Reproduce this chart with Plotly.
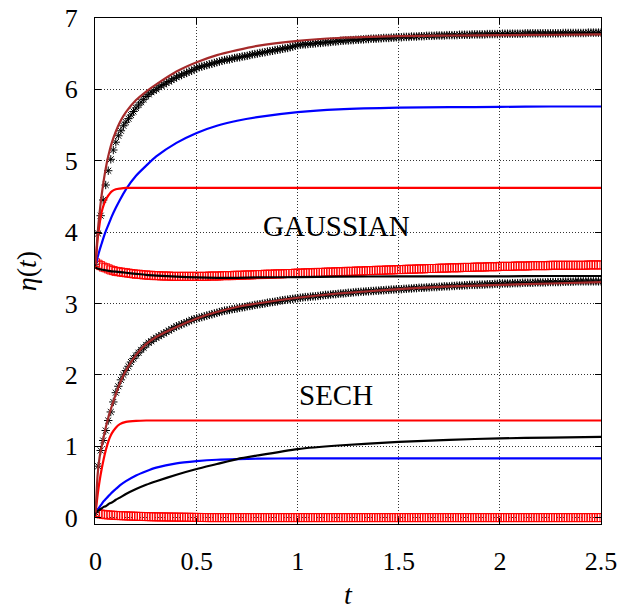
import plotly.graph_objects as go

# ---------------- data ----------------
# time grid for the continuous curves
t_line = [0, 0.01, 0.02, 0.03, 0.04, 0.05, 0.06, 0.07, 0.08, 0.1, 0.12, 0.15, 0.2, 0.25,
          0.3, 0.4, 0.5, 0.6, 0.7, 0.8, 1.0, 1.2, 1.5, 1.75, 2.0, 2.25, 2.5]

# GAUSSIAN group
gauss_brown = [3.55, 3.98, 4.28, 4.52, 4.72, 4.89, 5.03, 5.15, 5.25, 5.41, 5.54, 5.68, 5.85, 5.97,
               6.07, 6.25, 6.38, 6.48, 6.55, 6.61, 6.68, 6.72, 6.745, 6.755, 6.76, 6.765, 6.77]
gauss_red = [3.55, 3.90, 4.12, 4.28, 4.38, 4.45, 4.50, 4.54, 4.57, 4.60, 4.61, 4.62, 4.62, 4.62,
             4.62, 4.62, 4.62, 4.62, 4.62, 4.62, 4.62, 4.62, 4.62, 4.62, 4.62, 4.62, 4.62]
gauss_blue = [3.55, 3.65, 3.75, 3.84, 3.93, 4.01, 4.08, 4.15, 4.22, 4.34, 4.45, 4.60, 4.79, 4.93,
              5.06, 5.25, 5.39, 5.49, 5.56, 5.61, 5.68, 5.72, 5.745, 5.75, 5.755, 5.76, 5.76]
gauss_black = [3.50, 3.49, 3.48, 3.475, 3.47, 3.465, 3.46, 3.455, 3.45, 3.445, 3.44, 3.43, 3.415, 3.40,
               3.39, 3.375, 3.365, 3.36, 3.36, 3.365, 3.37, 3.375, 3.38, 3.38, 3.38, 3.385, 3.385]

# SECH group
sech_brown = [0.07, 0.60, 0.85, 1.00, 1.13, 1.26, 1.37, 1.47, 1.56, 1.73, 1.88, 2.06, 2.28, 2.43,
              2.53, 2.67, 2.79, 2.88, 2.95, 3.00, 3.08, 3.14, 3.20, 3.24, 3.26, 3.28, 3.30]
sech_red = [0.07, 0.32, 0.52, 0.68, 0.82, 0.94, 1.04, 1.12, 1.18, 1.26, 1.31, 1.34, 1.355, 1.36,
            1.36, 1.36, 1.36, 1.36, 1.36, 1.36, 1.36, 1.36, 1.36, 1.36, 1.36, 1.36, 1.36]
sech_blue = [0.07, 0.11, 0.15, 0.19, 0.23, 0.26, 0.29, 0.32, 0.35, 0.40, 0.45, 0.51, 0.59, 0.65,
             0.70, 0.76, 0.79, 0.81, 0.82, 0.825, 0.83, 0.83, 0.83, 0.83, 0.83, 0.83, 0.83]
sech_black = [0.07, 0.09, 0.11, 0.13, 0.15, 0.16, 0.18, 0.20, 0.21, 0.25, 0.28, 0.33, 0.40, 0.46,
              0.51, 0.60, 0.68, 0.75, 0.82, 0.87, 0.96, 1.01, 1.06, 1.09, 1.11, 1.12, 1.13]

# time grid for the marker series (step 0.0125, 201 points)
t_mark = [round(i * 0.0125, 4) for i in range(201)]

gauss_stars = [
    3.55, 3.98, 4.23, 4.45, 4.66, 4.86, 5.02, 5.15, 5.26, 5.35,
    5.42, 5.49, 5.54, 5.59, 5.64, 5.69, 5.74, 5.78, 5.82, 5.86,
    5.90, 5.93, 5.96, 5.98, 6.00, 6.03, 6.05, 6.07, 6.09, 6.11,
    6.13, 6.15, 6.17, 6.19, 6.20, 6.22, 6.23, 6.25, 6.26, 6.28,
    6.30, 6.31, 6.32, 6.33, 6.34, 6.35, 6.36, 6.37, 6.38, 6.39,
    6.40, 6.41, 6.415, 6.42, 6.43, 6.44, 6.445, 6.45, 6.46, 6.465,
    6.47, 6.48, 6.49, 6.495, 6.50, 6.51, 6.515, 6.52, 6.53, 6.535,
    6.54, 6.55, 6.555, 6.56, 6.57, 6.575, 6.58, 6.59, 6.60, 6.61,
    6.62, 6.625, 6.63, 6.63, 6.635, 6.64, 6.64, 6.645, 6.65, 6.65,
    6.655, 6.66, 6.66, 6.665, 6.67, 6.67, 6.675, 6.68, 6.68, 6.685,
    6.685, 6.69, 6.69, 6.695, 6.695, 6.70, 6.70, 6.705, 6.705, 6.71,
    6.71, 6.71, 6.715, 6.715, 6.72, 6.72, 6.72, 6.725, 6.725, 6.73,
    6.73, 6.73, 6.735, 6.735, 6.735, 6.74, 6.74, 6.74, 6.745, 6.745,
    6.745, 6.75, 6.75, 6.75, 6.75, 6.755, 6.755, 6.755, 6.755, 6.76,
    6.76, 6.76, 6.76, 6.76, 6.765, 6.765, 6.765, 6.765, 6.765, 6.77,
    6.77, 6.77, 6.77, 6.77, 6.77, 6.775, 6.775, 6.775, 6.775, 6.775,
    6.775, 6.78, 6.78, 6.78, 6.78, 6.78, 6.78, 6.78, 6.78, 6.78,
    6.785, 6.785, 6.785, 6.785, 6.785, 6.785, 6.785, 6.785, 6.785, 6.785,
    6.785, 6.785, 6.785, 6.785, 6.785, 6.79, 6.79, 6.79, 6.79, 6.79,
    6.79, 6.79, 6.79, 6.79, 6.79, 6.795, 6.795, 6.795, 6.795, 6.795,
    6.795]
gauss_squares = [
    3.57, 3.55, 3.53, 3.51, 3.50, 3.485, 3.47, 3.46, 3.45, 3.445,
    3.44, 3.435, 3.43, 3.425, 3.42, 3.415, 3.41, 3.41, 3.405, 3.40,
    3.40, 3.395, 3.395, 3.39, 3.39, 3.39, 3.385, 3.385, 3.385, 3.385,
    3.38, 3.38, 3.38, 3.38, 3.38, 3.38, 3.38, 3.38, 3.38, 3.38,
    3.38, 3.38, 3.38, 3.38, 3.38, 3.385, 3.385, 3.385, 3.385, 3.385,
    3.39, 3.39, 3.39, 3.39, 3.39, 3.395, 3.395, 3.395, 3.395, 3.40,
    3.40, 3.40, 3.40, 3.405, 3.405, 3.405, 3.405, 3.41, 3.41, 3.41,
    3.41, 3.415, 3.415, 3.415, 3.415, 3.42, 3.42, 3.42, 3.42, 3.425,
    3.425, 3.425, 3.425, 3.43, 3.43, 3.43, 3.43, 3.435, 3.435, 3.435,
    3.435, 3.44, 3.44, 3.44, 3.44, 3.445, 3.445, 3.445, 3.445, 3.45,
    3.45, 3.45, 3.45, 3.455, 3.455, 3.455, 3.455, 3.46, 3.46, 3.46,
    3.46, 3.465, 3.465, 3.465, 3.465, 3.47, 3.47, 3.47, 3.47, 3.475,
    3.475, 3.475, 3.475, 3.48, 3.48, 3.48, 3.48, 3.485, 3.485, 3.485,
    3.485, 3.49, 3.49, 3.49, 3.49, 3.49, 3.495, 3.495, 3.495, 3.495,
    3.50, 3.50, 3.50, 3.50, 3.50, 3.505, 3.505, 3.505, 3.505, 3.505,
    3.51, 3.51, 3.51, 3.51, 3.51, 3.515, 3.515, 3.515, 3.515, 3.515,
    3.52, 3.52, 3.52, 3.52, 3.52, 3.52, 3.525, 3.525, 3.525, 3.525,
    3.525, 3.525, 3.53, 3.53, 3.53, 3.53, 3.53, 3.53, 3.53, 3.53,
    3.535, 3.535, 3.535, 3.535, 3.535, 3.535, 3.535, 3.535, 3.535, 3.535,
    3.535, 3.535, 3.535, 3.535, 3.535, 3.54, 3.54, 3.54, 3.54, 3.54,
    3.54]
sech_stars = [
    0.07, 0.72, 0.94, 1.08, 1.22, 1.36, 1.48, 1.62, 1.75, 1.84,
    1.93, 2.00, 2.06, 2.12, 2.18, 2.23, 2.27, 2.31, 2.35, 2.38,
    2.42, 2.45, 2.47, 2.50, 2.52, 2.54, 2.56, 2.58, 2.60, 2.62,
    2.64, 2.66, 2.68, 2.69, 2.71, 2.72, 2.74, 2.75, 2.77, 2.78,
    2.79, 2.80, 2.81, 2.82, 2.83, 2.84, 2.85, 2.86, 2.87, 2.88,
    2.89, 2.90, 2.905, 2.91, 2.92, 2.925, 2.93, 2.94, 2.945, 2.95,
    2.96, 2.965, 2.97, 2.98, 2.985, 2.99, 2.995, 3.00, 3.01, 3.015,
    3.02, 3.025, 3.03, 3.04, 3.045, 3.05, 3.055, 3.06, 3.065, 3.07,
    3.075, 3.08, 3.085, 3.09, 3.09, 3.095, 3.10, 3.10, 3.105, 3.11,
    3.115, 3.12, 3.12, 3.125, 3.13, 3.13, 3.135, 3.14, 3.14, 3.145,
    3.15, 3.15, 3.155, 3.16, 3.16, 3.165, 3.165, 3.17, 3.17, 3.175,
    3.175, 3.18, 3.18, 3.185, 3.185, 3.19, 3.19, 3.195, 3.195, 3.20,
    3.20, 3.20, 3.205, 3.205, 3.21, 3.21, 3.215, 3.215, 3.22, 3.22,
    3.22, 3.225, 3.225, 3.23, 3.23, 3.23, 3.235, 3.235, 3.24, 3.24,
    3.24, 3.245, 3.245, 3.25, 3.25, 3.25, 3.255, 3.255, 3.26, 3.26,
    3.26, 3.26, 3.265, 3.265, 3.265, 3.27, 3.27, 3.27, 3.275, 3.275,
    3.275, 3.28, 3.28, 3.28, 3.28, 3.285, 3.285, 3.285, 3.285, 3.29,
    3.29, 3.29, 3.29, 3.29, 3.295, 3.295, 3.295, 3.295, 3.295, 3.30,
    3.30, 3.30, 3.30, 3.30, 3.30, 3.305, 3.305, 3.305, 3.305, 3.305,
    3.31, 3.31, 3.31, 3.31, 3.31, 3.31, 3.31, 3.31, 3.31, 3.31,
    3.31]
sech_squares = [
    0.07, 0.06, 0.05, 0.045, 0.04, 0.037, 0.035, 0.033, 0.03, 0.028,
    0.027, 0.025, 0.024, 0.022, 0.021, 0.02, 0.018, 0.017, 0.016, 0.015,
    0.014, 0.013, 0.012, 0.011, 0.01, 0.01, 0.009, 0.009, 0.008, 0.008,
    0.007, 0.007, 0.006, 0.006, 0.005, 0.005, 0.004, 0.004, 0.003, 0.003,
    0.002, 0.002, 0.001, 0.001, 0.0, 0.0, 0.0, 0.0, 0.0, 0.0,
    0.0, 0.0, 0.0, 0.0, 0.0, 0.0, 0.0, 0.0, 0.0, 0.0,
    0.0, 0.0, 0.0, 0.0, 0.0, 0.0, 0.0, 0.0, 0.0, 0.0,
    0.0, 0.0, 0.0, 0.0, 0.0, 0.0, 0.0, 0.0, 0.0, 0.0,
    0.0, 0.0, 0.0, 0.0, 0.0, 0.0, 0.0, 0.0, 0.0, 0.0,
    0.0, 0.0, 0.0, 0.0, 0.0, 0.0, 0.0, 0.0, 0.0, 0.0,
    0.0, 0.0, 0.0, 0.0, 0.0, 0.0, 0.0, 0.0, 0.0, 0.0,
    0.0, 0.0, 0.0, 0.0, 0.0, 0.0, 0.0, 0.0, 0.0, 0.0,
    0.0, 0.0, 0.0, 0.0, 0.0, 0.0, 0.0, 0.0, 0.0, 0.0,
    0.0, 0.0, 0.0, 0.0, 0.0, 0.0, 0.0, 0.0, 0.0, 0.0,
    0.0, 0.0, 0.0, 0.0, 0.0, 0.0, 0.0, 0.0, 0.0, 0.0,
    0.0, 0.0, 0.0, 0.0, 0.0, 0.0, 0.0, 0.0, 0.0, 0.0,
    0.0, 0.0, 0.0, 0.0, 0.0, 0.0, 0.0, 0.0, 0.0, 0.0,
    0.0, 0.0, 0.0, 0.0, 0.0, 0.0, 0.0, 0.0, 0.0, 0.0,
    0.0, 0.0, 0.0, 0.0, 0.0, 0.0, 0.0, 0.0, 0.0, 0.0,
    0.0, 0.0, 0.0, 0.0, 0.0, 0.0, 0.0, 0.0, 0.0, 0.0,
    0.0]

x_ticks = [0, 0.5, 1, 1.5, 2, 2.5]
x_tick_labels = ["0", "0.5", "1", "1.5", "2", "2.5"]
y_ticks = [0, 1, 2, 3, 4, 5, 6, 7]
y_tick_labels = ["0", "1", "2", "3", "4", "5", "6", "7"]

labels = [("GAUSSIAN", 1.19, 4.08), ("SECH", 1.19, 1.72)]

# ---------------- figure ----------------
FONT = "Liberation Serif, Times New Roman, serif"
RED = "#ff0000"
BLUE = "#0000ff"
BROWN = "#a52a2a"
BLACK = "#000000"

fig = go.Figure()

for ys in (gauss_stars, sech_stars):
    fig.add_trace(go.Scatter(x=t_mark, y=ys, mode="markers",
                             marker=dict(symbol="asterisk-open", size=7, color=BLACK,
                                         line=dict(color=BLACK, width=1)),
                             showlegend=False, hoverinfo="skip"))
for ys in (gauss_squares, sech_squares):
    fig.add_trace(go.Scatter(x=t_mark, y=ys, mode="markers",
                             marker=dict(symbol="square-open", size=8, color=RED,
                                         line=dict(color=RED, width=1)),
                             showlegend=False, hoverinfo="skip"))

for ys, col in ((gauss_blue, BLUE), (sech_blue, BLUE),
                (gauss_red, RED), (sech_red, RED),
                (gauss_black, BLACK), (sech_black, BLACK),
                (gauss_brown, BROWN), (sech_brown, BROWN)):
    fig.add_trace(go.Scatter(x=t_line, y=ys, mode="lines",
                             line=dict(color=col, width=2.2, shape="spline", smoothing=0.6),
                             showlegend=False, hoverinfo="skip"))

for txt, x, y in labels:
    fig.add_annotation(x=x, y=y, text=txt, showarrow=False,
                       font=dict(family=FONT, size=29, color=BLACK))

axis_common = dict(showline=True, linecolor=BLACK, linewidth=1.2, mirror="ticks",
                   ticks="inside", ticklen=6, tickcolor=BLACK, tickwidth=1.2,
                   showgrid=True, gridcolor="#333333", gridwidth=1, griddash="1px,2px",
                   zeroline=False, tickfont=dict(family=FONT, size=26, color=BLACK))

fig.update_xaxes(range=[-0.003, 2.5], tickvals=x_ticks, ticktext=x_tick_labels,
                 ticklabelstandoff=14,
                 title=dict(text="<i>t</i>", font=dict(family=FONT, size=28, color=BLACK),
                            standoff=13),
                 **axis_common)
fig.update_yaxes(range=[-0.09, 7], tickvals=y_ticks, ticktext=y_tick_labels,
                 ticklabelstandoff=11,
                 title=dict(text="<i>η</i>(<i>t</i>)", font=dict(family=FONT, size=28, color=BLACK),
                            standoff=19),
                 **axis_common)

fig.update_layout(width=627, height=610,
                  margin=dict(l=95, r=26, t=18, b=86, autoexpand=False),
                  plot_bgcolor="white", paper_bgcolor="white",
                  showlegend=False)

fig.write_html("out.html")
